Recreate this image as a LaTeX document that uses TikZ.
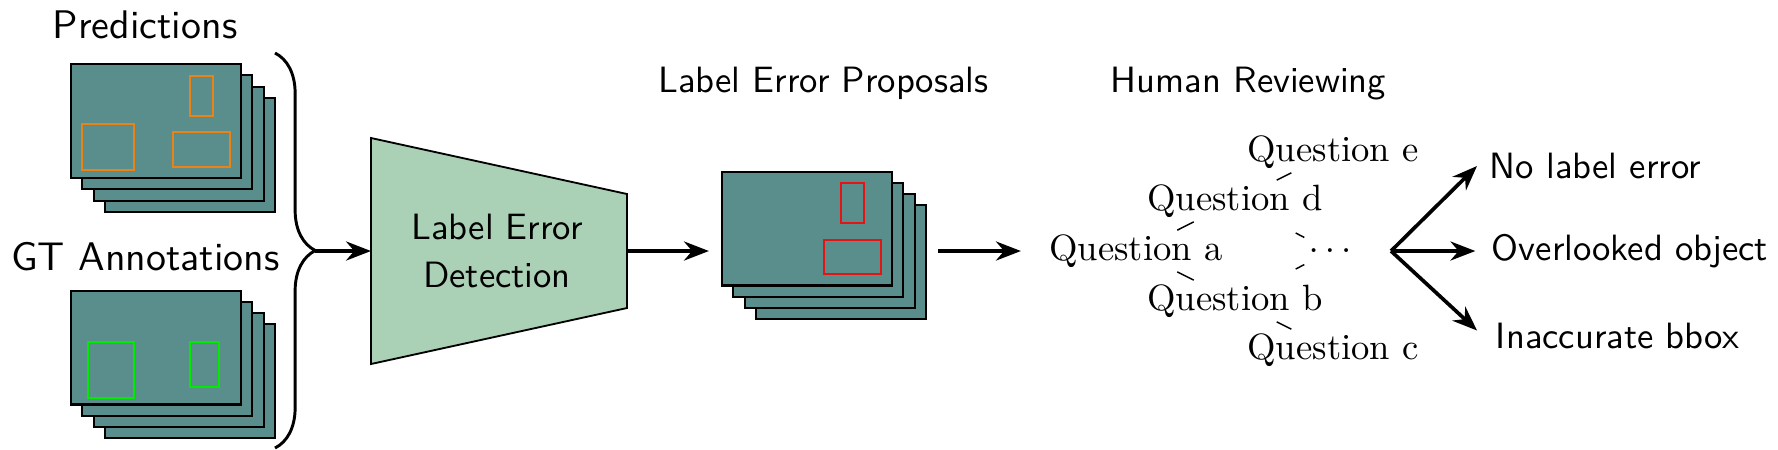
\documentclass[tikz,border=0pt]{standalone}
\usepackage{tikz}
\usetikzlibrary{arrows.meta}
\usetikzlibrary{decorations.pathreplacing}
\definecolor{cardColor}{RGB}{90,142,140}
\definecolor{detectColor}{RGB}{170,208,182}
\definecolor{predColor}{RGB}{235,130,20}
\definecolor{gtColor}{RGB}{0,235,0}
\definecolor{errColor}{RGB}{228,20,20}

\begin{document}
\begin{tikzpicture}[x=0.96cm,y=0.96cm]

          \tikzstyle{card} = [draw, line width=0.55pt, fill=cardColor, inner sep=0pt, minimum width=1.632cm, minimum height=1.094cm];
          \tikzstyle{predBox} = [draw=predColor, line width=0.5pt];
          \tikzstyle{gtBox} = [draw=gtColor, line width=0.5pt];
          \tikzstyle{errBox} = [draw=errColor, line width=0.5pt];

          \tikzstyle{title} = [font=\sffamily, anchor=base];
          \tikzstyle{bigTitle} = [font=\sffamily\fontsize{10.9}{13}\selectfont, anchor=base];
          \tikzstyle{question} = [inner sep=1pt];
          \tikzstyle{outcome} = [font=\sffamily, anchor=west];

          \tikzstyle{flow} = [line width=1pt, -{Stealth[length=6.8pt,width=5.2pt]}];
          \tikzstyle{treeEdge} = [line width=0.4pt];

          \useasboundingbox (0,0) rectangle (17.78,4.49);

          % predictions
          \node[bigTitle] (predTitle) at (1.45,4.11) {Predictions};
          \foreach \i in {3,2,1,0}
            \node[card] (pred\i) at (1.56+0.113*\i,3.28-0.113*\i) {};
          \begin{scope}[shift={(pred0.center)}]
            \draw[predBox] (0.34,0.05) rectangle (0.57,0.45);
            \draw[predBox] (-0.74,-0.49) rectangle (-0.22,-0.03);
            \draw[predBox] (0.17,-0.46) rectangle (0.74,-0.11);
          \end{scope}

          % ground truth
          \node[bigTitle] (gtTitle) at (1.455,1.79) {GT Annotations};
          \foreach \i in {3,2,1,0}
            \node[card] (gt\i) at (1.56+0.113*\i,1.015-0.113*\i) {};
          \begin{scope}[shift={(gt0.center)}]
            \draw[gtBox] (-0.68,-0.505) rectangle (-0.22,0.055);
            \draw[gtBox] (0.34,-0.395) rectangle (0.63,0.055);
          \end{scope}

          \draw[line width=0.8pt, decorate, decoration={brace, amplitude=11pt}] (2.75,3.96) -- (2.75,0.01);
          \coordinate (braceTip) at (3.15,1.98);

          % detector
          \draw[fill=detectColor, line width=0.5pt] (3.71,3.11) -- (6.27,2.55) -- (6.27,1.41) -- (3.71,0.85) -- cycle;
          \node[font=\sffamily\fontsize{10}{13}\selectfont, align=center] (detect) at (4.97,1.98) {Label Error\\Detection};
          \coordinate (detectIn) at (3.71,1.98);
          \coordinate (detectOut) at (6.27,1.98);
          \draw[flow] (braceTip) -- (detectIn);

          % proposals
          \node[title] (propTitle) at (8.235,3.57) {Label Error Proposals};
          \foreach \i in {3,2,1,0}
            \node[card] (prop\i) at (8.07+0.113*\i,2.205-0.113*\i) {};
          \begin{scope}[shift={(prop0.center)}]
            \draw[errBox] (0.34,0.055) rectangle (0.57,0.455);
            \draw[errBox] (0.17,-0.455) rectangle (0.74,-0.115);
          \end{scope}
          \draw[flow, shorten >=3.3pt] (detectOut) -- (detectOut -| prop0.west);

          % review
          \node[title] (reviewTitle) at (12.485,3.57) {Human Reviewing};
          \node[question] (qa) at (11.36,1.98) {Question a};
          \node[question] (qd) at (12.35,2.48) {Question d};
          \node[question] (qb) at (12.35,1.48) {Question b};
          \node[question] (qe) at (13.33,2.97) {Question e};
          \node[question] (qc) at (13.33,0.99) {Question c};
          \node[inner sep=1pt, minimum height=8.7pt] (qdots) at (13.30,1.98) {$\dots$};

          \draw[flow, shorten <=3pt, shorten >=6.6pt] (prop3.east |- qa) -- (qa);
          \draw[treeEdge] (qa) -- (qd);
          \draw[treeEdge] (qa) -- (qb);
          \draw[treeEdge] (qd) -- (qe);
          \draw[treeEdge] (qb) -- (qc);
          \draw[treeEdge, shorten <=6.5pt] (qd) -- (qdots);
          \draw[treeEdge, shorten <=6.5pt] (qb) -- (qdots);

          % outcomes
          \coordinate (fan) at (13.91,1.98);
          \node[outcome] (noError) at (14.77,2.83) {No label error};
          \node[outcome] (overlooked) at (14.79,1.98) {Overlooked object};
          \node[outcome] (inaccurate) at (14.83,1.13) {Inaccurate bbox};
          \draw[flow] (fan) -- (noError.west);
          \draw[flow, shorten >=1pt] (fan) -- (overlooked.west);
          \draw[flow, shorten >=2.2pt] (fan) -- (inaccurate.west);
        \end{tikzpicture}
\end{document}
